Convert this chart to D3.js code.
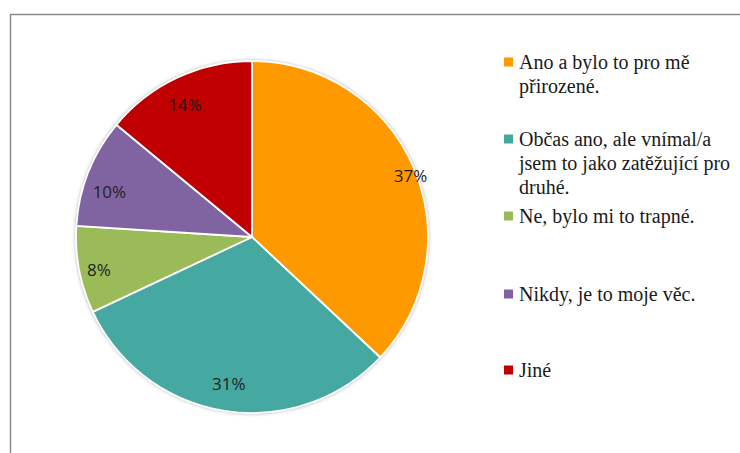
<!DOCTYPE html>
<html>
<head>
<meta charset="utf-8">
<script src="https://cdn.jsdelivr.net/npm/d3@7"></script>
<style>
  html, body { margin: 0; padding: 0; background: #fff; }
  svg { display: block; }
</style>
</head>
<body>
<svg id="chart" width="740" height="453"></svg>
<script>
// Survey answers, share of respondents (%)
const categories = [
  "Ano a bylo to pro mě přirozené.",
  "Občas ano, ale vnímal/a jsem to jako zatěžující pro druhé.",
  "Ne, bylo mi to trapné.",
  "Nikdy, je to moje věc.",
  "Jiné"
];
const values = [37, 31, 8, 10, 14];
const colors = ["#FF9900", "#45A9A1", "#9BBB59", "#8064A2", "#C00000"];
// Legend text split into lines as wrapped in the legend box
const legendLines = [
  ["Ano a bylo to pro mě", "přirozené."],
  ["Občas ano, ale vnímal/a", "jsem to jako zatěžující pro", "druhé."],
  ["Ne, bylo mi to trapné."],
  ["Nikdy, je to moje věc."],
  ["Jiné"]
];

const svg = d3.select("#chart");

// Outer frame (left and top edges visible within the view)
svg.append("path")
  .attr("d", "M10.5,453 L10.5,14.5 L740,14.5")
  .attr("fill", "none")
  .attr("stroke", "#8a8a8a")
  .attr("stroke-width", 1.5);

const cx = 252, cy = 237, r = 176;

const defs = svg.append("defs");
const f = defs.append("filter").attr("id", "soft").attr("x", "-10%").attr("y", "-10%").attr("width", "120%").attr("height", "120%");
f.append("feGaussianBlur").attr("stdDeviation", 1.5);

const g = svg.append("g").attr("transform", `translate(${cx},${cy})`);

// faint shadow ring around the pie
g.append("circle")
  .attr("r", r + 1.5)
  .attr("fill", "#c8c8c8")
  .attr("filter", "url(#soft)");

const pie = d3.pie().value(d => d).sort(null);
const arcs = pie(values);
const arc = d3.arc().innerRadius(0).outerRadius(r);

g.selectAll("path.slice")
  .data(arcs)
  .join("path")
  .attr("class", "slice")
  .attr("d", arc)
  .attr("fill", (d, i) => colors[i])
  .attr("stroke", "#ffffff")
  .attr("stroke-width", 1.8)
  .attr("stroke-linejoin", "round");

// percentage labels inside slices: radial factor and angular nudge (degrees)
const labelRadius = [0.965, 0.845, 0.89, 0.85, 0.84];
const labelNudge = [2.4, 0, -1.4, -4, -1.8];
g.selectAll("text.pct")
  .data(arcs)
  .join("text")
  .attr("class", "pct")
  .attr("transform", (d, i) => {
    const a = (d.startAngle + d.endAngle) / 2 + labelNudge[i] * Math.PI / 180;
    const rr = r * labelRadius[i];
    return `translate(${Math.sin(a) * rr},${-Math.cos(a) * rr})`;
  })
  .attr("text-anchor", "middle")
  .attr("dy", "0.36em")
  .attr("font-family", "Open Sans")
  .attr("font-size", "17px")
  .attr("fill", "#1f1f1f")
  .text(d => d.data + "%");

// legend: marker centre of each entry and text baselines
const legendTop = [62, 139, 216, 294, 370];
const lineH = 24;
const legend = svg.append("g");
legendLines.forEach((lines, i) => {
  const item = legend.append("g");
  item.append("rect")
    .attr("x", 504)
    .attr("y", legendTop[i] - 4.5)
    .attr("width", 9)
    .attr("height", 9)
    .attr("fill", colors[i]);
  const t = item.append("text")
    .attr("font-family", "Liberation Serif")
    .attr("font-size", "20px")
    .attr("fill", "#1a1a1a");
  lines.forEach((ln, j) => {
    t.append("tspan")
      .attr("x", 519)
      .attr("y", legendTop[i] + 7 + j * lineH)
      .text(ln);
  });
});
</script>
</body>
</html>
